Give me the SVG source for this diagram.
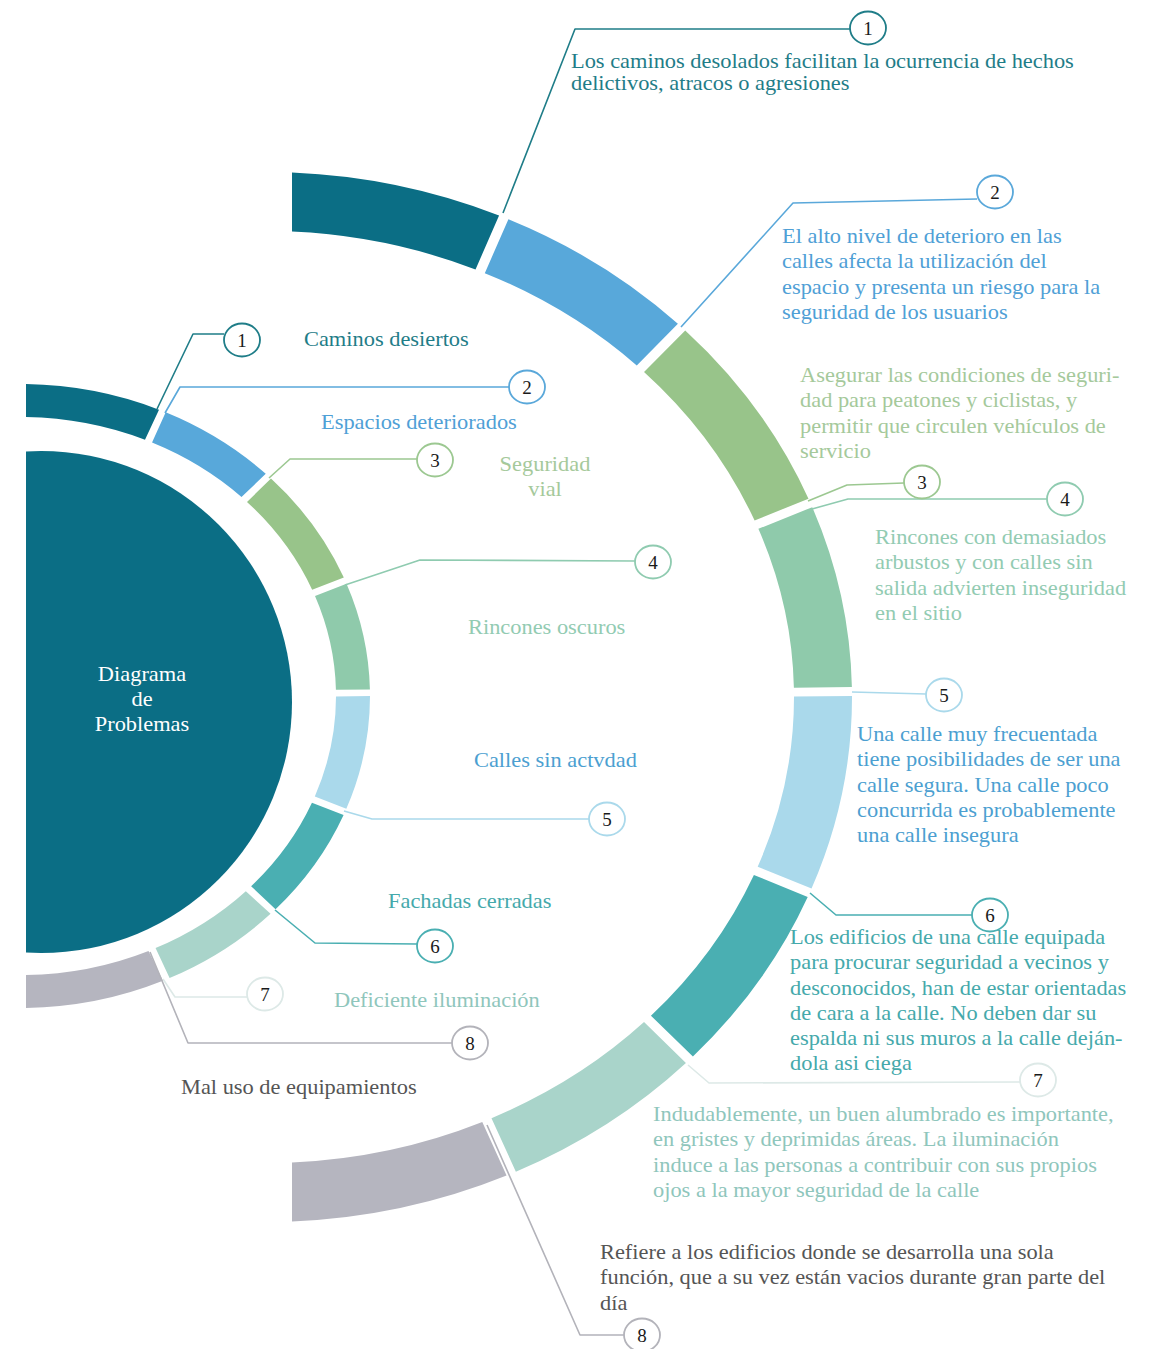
<svg xmlns="http://www.w3.org/2000/svg" width="1150" height="1349" viewBox="0 0 1150 1349">
<style>
.t{font-family:"Liberation Serif","Times New Roman",serif;font-size:20px}
.n{font-family:"Liberation Serif","Times New Roman",serif;font-size:19px;fill:#1a1a1a;text-anchor:middle}
.nc{fill:#fff;stroke-width:1.8}
.ln{fill:none;stroke-width:1.6;stroke-linejoin:round}
.k1{fill:#0b6e85}.k2{fill:#58a8da}.k3{fill:#98c48a}.k4{fill:#8fcaab}.k5{fill:#aad9eb}.k6{fill:#4aafb2}.k7{fill:#a9d4ca}.k8{fill:#b5b5bf}
.s1{stroke:#1f7d88}.s2{stroke:#5aa8da}.s3{stroke:#9cc891}.s4{stroke:#8fcbb0}.s5{stroke:#aad9eb}.s6{stroke:#4aafb2}.s7{stroke:#dde9e7}.s8{stroke:#b3b3ba}
.c1{fill:#1f7d88}.c2{fill:#4fa0d6}.c3{fill:#a5c99b}.c4{fill:#92cbb2}.c5{fill:#4c9fd1}.c6{fill:#45a9ab}.c7{fill:#8fc6bc}.c8{fill:#555}.cw{fill:#fff}
</style>
<defs>
<clipPath id="clipL"><rect x="26" y="0" width="1124" height="1349"/></clipPath>
</defs>
<rect width="1150" height="1349" fill="#fff"/>

<g id="center" clip-path="url(#clipL)">
<circle class="k1" cx="41" cy="702" r="251"/>
<text class="t cw" text-anchor="middle" transform="translate(142,681) scale(1.12,1)"><tspan x="0" y="0">Diagrama</tspan><tspan x="0" y="25">de</tspan><tspan x="0" y="50">Problemas</tspan></text>
</g>

<g id="inner-ring">
<path id="in1" class="k1" d="M26,384.05 A350,312 0 0 1 159,409.66 L144.99,439.75 A316,279 0 0 0 26,417.05 Z"/>
<path id="in2" class="k2" d="M165.7,412.32 A350,312 0 0 1 265.75,473.85 L241.49,497 A316,279 0 0 0 152.05,442.53 Z"/>
<path id="in3" class="k3" d="M270.99,478.55 A350,312 0 0 1 343.82,577.61 L312.16,589.68 A316,279 0 0 0 246.99,501.9 Z"/>
<path id="in4" class="k4" d="M346.53,583.68 A350,312 0 0 1 369.92,689.47 L335.92,689.67 A316,279 0 0 0 315.01,596.02 Z"/>
<path id="in5" class="k5" d="M370,696 A350,312 0 0 1 346.31,808.83 L314.81,796.44 A316,279 0 0 0 336,696.49 Z"/>
<path id="in6" class="k6" d="M343.59,814.89 A350,312 0 0 1 275.56,909.18 L251.11,886.28 A316,279 0 0 0 311.95,802.77 Z"/>
<path id="in7" class="k7" d="M270.56,913.84 A350,312 0 0 1 169.58,978.07 L155.55,948.03 A316,279 0 0 0 245.83,891.15 Z"/>
<path id="in8" class="k8" d="M162.92,980.8 A350,312 0 0 1 26,1007.95 L26,974.95 A316,279 0 0 0 148.53,950.88 Z"/>
</g>

<g id="outer-ring">
<path id="out1" class="k1" d="M292,172.56 A587,525 0 0 1 499.07,215.54 L475.52,269.49 A529,466 0 0 0 292,231.61 Z"/>
<path id="out2" class="k2" d="M508.42,219.27 A587,525 0 0 1 677.9,323.83 L636.77,365.48 A529,466 0 0 0 484.79,273.13 Z"/>
<path id="out3" class="k3" d="M685.23,330.44 A587,525 0 0 1 808.49,498.63 L754.61,520.55 A529,466 0 0 0 644.03,371.93 Z"/>
<path id="out4" class="k4" d="M812.27,507.15 A587,525 0 0 1 851.89,686.92 L793.89,687.65 A529,466 0 0 0 758.37,528.86 Z"/>
<path id="out5" class="k5" d="M852,696.08 A587,525 0 0 1 811.53,888.56 L757.69,866.65 A529,466 0 0 0 794,696.59 Z"/>
<path id="out6" class="k6" d="M807.71,897.06 A587,525 0 0 1 692.91,1056.39 L650.94,1015.7 A529,466 0 0 0 753.91,874.96 Z"/>
<path id="out7" class="k7" d="M685.94,1062.9 A587,525 0 0 1 515.86,1171.64 L491.49,1118.13 A529,466 0 0 0 644.03,1022.07 Z"/>
<path id="out8" class="k8" d="M506.56,1175.49 A587,525 0 0 1 292,1221.44 L292,1162.39 A529,466 0 0 0 482.27,1121.88 Z"/>
</g>

<g id="connectors">
<polyline class="ln s1" points="157,409 193,334 224,334"/>
<polyline class="ln s2" points="165,413 180,387 509,387"/>
<polyline class="ln s3" points="269,478 290,459 417,459"/>
<polyline class="ln s4" points="345,585 420,560 635,561"/>
<polyline class="ln s5" points="344,811 372,819 589,819"/>
<polyline class="ln s6" points="275,910 315,943 417,944"/>
<polyline class="ln s7" points="163,979 175,997 247,997"/>
<polyline class="ln s8" points="150,952 188,1043 452,1043"/>
<polyline class="ln s1" points="503,213 575,29 850,29"/>
<polyline class="ln s2" points="681,327 793,203 977,199"/>
<polyline class="ln s3" points="808,501 847,485 904,483"/>
<polyline class="ln s4" points="812,509 848,499 1047,499"/>
<polyline class="ln s5" points="852,692 926,694"/>
<polyline class="ln s6" points="810,893 836,915 972,915"/>
<polyline class="ln s7" points="688,1065 709,1083 1020,1082"/>
<polyline class="ln s8" points="487,1125 580,1335 624,1335"/>
</g>

<g id="inner-labels">
<g id="lab1"><ellipse class="nc s1" cx="242" cy="340" rx="18" ry="16.5"/><text class="n" x="242" y="347">1</text><text class="t c1" transform="translate(304,346) scale(1.12,1)">Caminos desiertos</text></g>
<g id="lab2"><ellipse class="nc s2" cx="527" cy="387" rx="18" ry="16.5"/><text class="n" x="527" y="394">2</text><text class="t c2" transform="translate(321,429) scale(1.12,1)">Espacios deteriorados</text></g>
<g id="lab3"><ellipse class="nc s3" cx="435" cy="460" rx="18" ry="16.5"/><text class="n" x="435" y="467">3</text><text class="t c3" text-anchor="middle" transform="translate(545,471) scale(1.12,1)"><tspan x="0" y="0">Seguridad</tspan><tspan x="0" y="25">vial</tspan></text></g>
<g id="lab4"><ellipse class="nc s4" cx="653" cy="562" rx="18" ry="16.5"/><text class="n" x="653" y="569">4</text><text class="t c4" transform="translate(468,634) scale(1.12,1)">Rincones oscuros</text></g>
<g id="lab5"><ellipse class="nc s5" cx="607" cy="819" rx="18" ry="16.5"/><text class="n" x="607" y="826">5</text><text class="t c5" transform="translate(474,767) scale(1.12,1)">Calles sin actvdad</text></g>
<g id="lab6"><ellipse class="nc s6" cx="435" cy="946" rx="18" ry="16.5"/><text class="n" x="435" y="953">6</text><text class="t c6" transform="translate(388,908) scale(1.12,1)">Fachadas cerradas</text></g>
<g id="lab7"><ellipse class="nc s7" cx="265" cy="994" rx="18" ry="16.5"/><text class="n" x="265" y="1001">7</text><text class="t c7" transform="translate(334,1007) scale(1.12,1)">Deficiente iluminación</text></g>
<g id="lab8"><ellipse class="nc s8" cx="470" cy="1043" rx="18" ry="16.5"/><text class="n" x="470" y="1050">8</text><text class="t c8" transform="translate(181,1094) scale(1.12,1)">Mal uso de equipamientos</text></g>
</g>

<g id="outer-labels">
<g id="desc1"><ellipse class="nc s1" cx="868" cy="28" rx="18" ry="16.5"/><text class="n" x="868" y="35">1</text>
<text class="t c1" transform="translate(571,68) scale(1.12,1)"><tspan x="0" y="0">Los caminos desolados facilitan la ocurrencia de hechos</tspan><tspan x="0" y="22">delictivos, atracos o agresiones</tspan></text></g>
<g id="desc2"><ellipse class="nc s2" cx="995" cy="192" rx="18" ry="16.5"/><text class="n" x="995" y="199">2</text>
<text class="t c2" transform="translate(782,243) scale(1.12,1)"><tspan x="0" y="0">El alto nivel de deterioro en las</tspan><tspan x="0" y="25.3">calles afecta la utilización del</tspan><tspan x="0" y="50.6">espacio y presenta un riesgo para la</tspan><tspan x="0" y="75.9">seguridad de los usuarios</tspan></text></g>
<g id="desc3"><ellipse class="nc s3" cx="922" cy="482" rx="18" ry="16.5"/><text class="n" x="922" y="489">3</text>
<text class="t c3" transform="translate(800,382) scale(1.12,1)"><tspan x="0" y="0">Asegurar las condiciones de seguri-</tspan><tspan x="0" y="25.3">dad para peatones y ciclistas, y</tspan><tspan x="0" y="50.6">permitir que circulen vehículos de</tspan><tspan x="0" y="75.9">servicio</tspan></text></g>
<g id="desc4"><ellipse class="nc s4" cx="1065" cy="499" rx="18" ry="16.5"/><text class="n" x="1065" y="506">4</text>
<text class="t c4" transform="translate(875,544) scale(1.12,1)"><tspan x="0" y="0">Rincones con demasiados</tspan><tspan x="0" y="25.3">arbustos y con calles sin</tspan><tspan x="0" y="50.6">salida advierten inseguridad</tspan><tspan x="0" y="75.9">en el sitio</tspan></text></g>
<g id="desc5"><ellipse class="nc s5" cx="944" cy="695" rx="18" ry="16.5"/><text class="n" x="944" y="702">5</text>
<text class="t c5" transform="translate(857,741) scale(1.12,1)"><tspan x="0" y="0">Una calle muy frecuentada</tspan><tspan x="0" y="25.3">tiene posibilidades de ser una</tspan><tspan x="0" y="50.6">calle segura. Una calle poco</tspan><tspan x="0" y="75.9">concurrida es probablemente</tspan><tspan x="0" y="101.2">una calle insegura</tspan></text></g>
<g id="desc6">
<text class="t c6" transform="translate(790,944) scale(1.12,1)"><tspan x="0" y="0">Los edificios de una calle equipada</tspan><tspan x="0" y="25.3">para procurar seguridad a vecinos y</tspan><tspan x="0" y="50.6">desconocidos, han de estar orientadas</tspan><tspan x="0" y="75.9">de cara a la calle. No deben dar su</tspan><tspan x="0" y="101.2">espalda ni sus muros a la calle deján-</tspan><tspan x="0" y="126.5">dola asi ciega</tspan></text>
<ellipse class="nc s6" cx="990" cy="915" rx="18" ry="16.5" fill-opacity="0.6"/><text class="n" x="990" y="922">6</text></g>
<g id="desc7"><ellipse class="nc s7" cx="1038" cy="1080" rx="18" ry="16.5"/><text class="n" x="1038" y="1087">7</text>
<text class="t c7" transform="translate(653,1121) scale(1.12,1)"><tspan x="0" y="0">Indudablemente, un buen alumbrado es importante,</tspan><tspan x="0" y="25.3">en gristes y deprimidas áreas. La iluminación</tspan><tspan x="0" y="50.6">induce a las personas a contribuir con sus propios</tspan><tspan x="0" y="75.9">ojos a la mayor seguridad de la calle</tspan></text></g>
<g id="desc8"><ellipse class="nc s8" cx="642" cy="1335" rx="18" ry="16.5"/><text class="n" x="642" y="1342">8</text>
<text class="t c8" transform="translate(600,1259) scale(1.12,1)"><tspan x="0" y="0">Refiere a los edificios donde se desarrolla una sola</tspan><tspan x="0" y="25.3">función, que a su vez están vacios durante gran parte del</tspan><tspan x="0" y="50.6">día</tspan></text></g>
</g>
</svg>
